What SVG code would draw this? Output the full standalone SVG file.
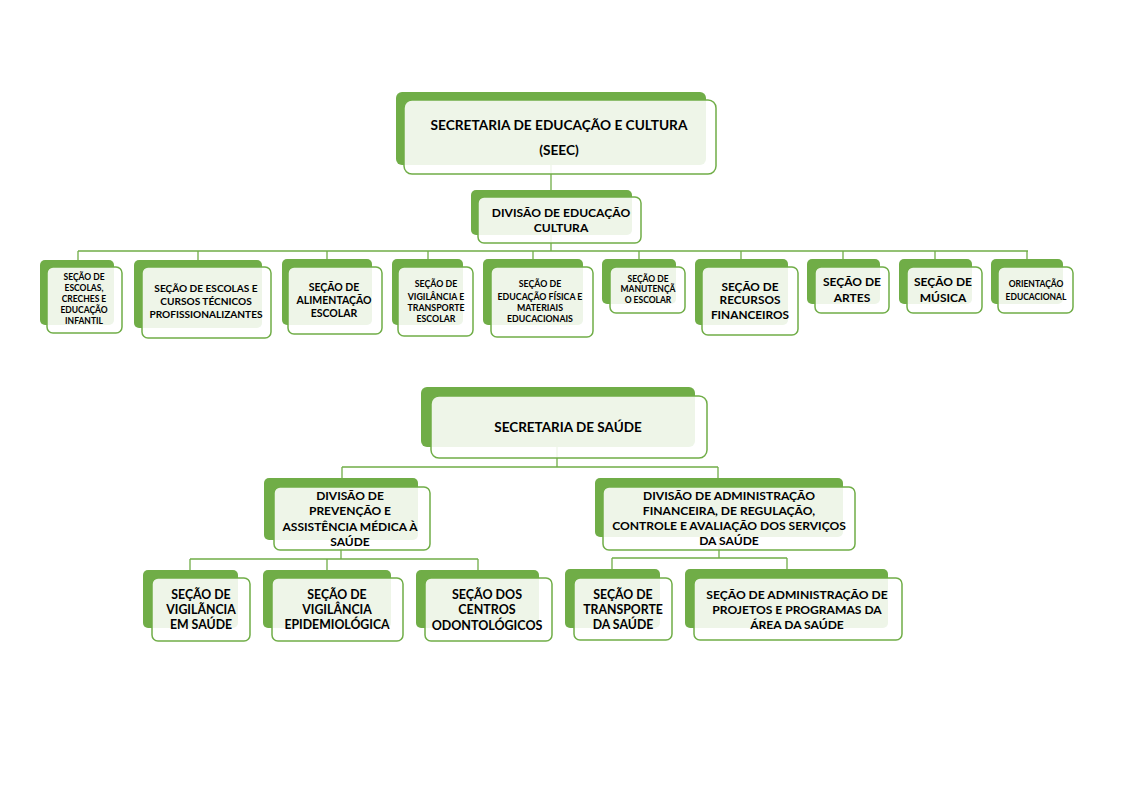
<svg xmlns="http://www.w3.org/2000/svg" width="1121" height="793" viewBox="0 0 1121 793">
<style>
.bk{fill:#70ad47}
.fr{fill:#ffffff;fill-opacity:0.88;stroke:#70ad47;stroke-width:1.5}
.cn{fill:none;stroke:#70ad47;stroke-width:1.3}
text{font-family:Lato,"Liberation Sans",sans-serif;font-weight:bold;fill:#000;text-anchor:middle}
</style>
<rect width="1121" height="793" fill="#ffffff"/>
<g id="connectors" class="cn">
<path d="M551 165V197M551 235V251M78 251H1028M78 251V260M198 251V260M327 251V260M428 251V260M533 251V260M639 251V260M741 251V260M843 251V260M935 251V260M1027 251V260"/>
<path d="M557 447V467M342 467H718M342 467V478M718 467V478"/>
<path d="M341 540V559M190 559H478M190 559V570M327 559V570M478 559V570"/>
<path d="M719 537V558M612 558H787M612 558V569M787 558V569"/>
</g>
<g id="seec">
<rect class="bk" x="396" y="92" width="310" height="73" rx="6"/>
<rect class="fr" x="404" y="100" width="312" height="74" rx="8"/>
<text x="559" y="130" font-size="13.7">SECRETARIA DE EDUCAÇÃO E CULTURA</text>
<text x="559" y="155" font-size="13.7">(SEEC)</text>
</g>
<g id="div-educacao">
<rect class="bk" x="471" y="190" width="161" height="45" rx="5"/>
<rect class="fr" x="478" y="197" width="163" height="46" rx="6"/>
<text x="561" y="217" font-size="12.1">DIVISÃO DE EDUCAÇÃO</text>
<text x="561" y="232" font-size="12.1">CULTURA</text>
</g>
<g id="sec-escolas-creches">
<rect class="bk" x="40" y="260" width="74" height="65" rx="5"/>
<rect class="fr" x="47" y="267" width="75" height="66" rx="6"/>
<g font-size="8.5"><text x="84" y="280">SEÇÃO DE</text><text x="84" y="291">ESCOLAS,</text><text x="84" y="302">CRECHES E</text><text x="84" y="313">EDUCAÇÃO</text><text x="84" y="324">INFANTIL</text></g>
</g>
<g id="sec-cursos-tecnicos">
<rect class="bk" x="134" y="260" width="128" height="68" rx="5"/>
<rect class="fr" x="142" y="267" width="129" height="71" rx="6"/>
<g font-size="10.1"><text x="206" y="292">SEÇÃO DE ESCOLAS E</text><text x="206" y="305">CURSOS TÉCNICOS</text><text x="206" y="318">PROFISSIONALIZANTES</text></g>
</g>
<g id="sec-alimentacao">
<rect class="bk" x="282" y="259" width="90" height="66" rx="5"/>
<rect class="fr" x="288" y="267" width="94" height="67" rx="6"/>
<g font-size="10.5"><text x="334" y="291">SEÇÃO DE</text><text x="334" y="304">ALIMENTAÇÃO</text><text x="334" y="317">ESCOLAR</text></g>
</g>
<g id="sec-vigilancia-transporte">
<rect class="bk" x="392" y="259" width="71" height="66" rx="5"/>
<rect class="fr" x="398" y="267" width="75" height="69" rx="6"/>
<g font-size="8.8"><text x="436" y="287">SEÇÃO DE</text><text x="436" y="300">VIGILÂNCIA E</text><text x="436" y="311">TRANSPORTE</text><text x="436" y="322">ESCOLAR</text></g>
</g>
<g id="sec-educacao-fisica">
<rect class="bk" x="483" y="259" width="100" height="66" rx="5"/>
<rect class="fr" x="491" y="267" width="102" height="70" rx="6"/>
<g font-size="8.8"><text x="540" y="287">SEÇÃO DE</text><text x="540" y="300">EDUCAÇÃO FÍSICA E</text><text x="540" y="311">MATERIAIS</text><text x="540" y="322">EDUCACIONAIS</text></g>
</g>
<g id="sec-manutencao">
<rect class="bk" x="602" y="259" width="74" height="45" rx="5"/>
<rect class="fr" x="610" y="267" width="75" height="46" rx="6"/>
<g font-size="8.5"><text x="648" y="282">SEÇÃO DE</text><text x="648" y="292">MANUTENÇÃ</text><text x="648" y="303">O ESCOLAR</text></g>
</g>
<g id="sec-recursos">
<rect class="bk" x="695" y="259" width="93" height="66" rx="5"/>
<rect class="fr" x="702" y="267" width="96" height="68" rx="6"/>
<g font-size="11.8"><text x="750" y="291">SEÇÃO DE</text><text x="750" y="304">RECURSOS</text><text x="750" y="319">FINANCEIROS</text></g>
</g>
<g id="sec-artes">
<rect class="bk" x="807" y="259" width="73" height="45" rx="5"/>
<rect class="fr" x="815" y="267" width="74" height="46" rx="6"/>
<g font-size="12"><text x="852" y="286">SEÇÃO DE</text><text x="852" y="302">ARTES</text></g>
</g>
<g id="sec-musica">
<rect class="bk" x="899" y="259" width="73" height="45" rx="5"/>
<rect class="fr" x="907" y="267" width="75" height="46" rx="6"/>
<g font-size="12"><text x="943" y="286">SEÇÃO DE</text><text x="943" y="302">MÚSICA</text></g>
</g>
<g id="orientacao">
<rect class="bk" x="991" y="259" width="72" height="45" rx="5"/>
<rect class="fr" x="998" y="267" width="75" height="46" rx="6"/>
<g font-size="8.5"><text x="1036" y="287">ORIENTAÇÃO</text><text x="1036" y="300">EDUCACIONAL</text></g>
</g>
<g id="saude">
<rect class="bk" x="421" y="387" width="274" height="60" rx="6"/>
<rect class="fr" x="431" y="396" width="276" height="62" rx="8"/>
<text x="568" y="432" font-size="13.5">SECRETARIA DE SAÚDE</text>
</g>
<g id="div-prevencao">
<rect class="bk" x="264" y="478" width="154" height="62" rx="5"/>
<rect class="fr" x="274" y="487" width="156" height="63" rx="6"/>
<g font-size="12"><text x="350" y="500">DIVISÃO DE</text><text x="350" y="515">PREVENÇÃO E</text><text x="350" y="531">ASSISTÊNCIA MÉDICA À</text><text x="350" y="546">SAÚDE</text></g>
</g>
<g id="div-administracao">
<rect class="bk" x="595" y="478" width="248" height="59" rx="5"/>
<rect class="fr" x="603" y="487" width="252" height="63" rx="6"/>
<g font-size="12.1"><text x="729" y="500">DIVISÃO DE ADMINISTRAÇÃO</text><text x="729" y="515">FINANCEIRA, DE REGULAÇÃO,</text><text x="729" y="530">CONTROLE E AVALIAÇÃO DOS SERVIÇOS</text><text x="729" y="545">DA SAÚDE</text></g>
</g>
<g id="sec-vigilancia-saude">
<rect class="bk" x="143" y="570" width="95" height="58" rx="5"/>
<rect class="fr" x="152" y="578" width="98" height="63" rx="6"/>
<g font-size="12.3"><text x="201" y="599">SEÇÃO DE</text><text x="201" y="614">VIGILÃNCIA</text><text x="201" y="629">EM SAÚDE</text></g>
</g>
<g id="sec-vigilancia-epidemiologica">
<rect class="bk" x="263" y="570" width="128" height="58" rx="5"/>
<rect class="fr" x="272" y="578" width="131" height="63" rx="6"/>
<g font-size="12.3"><text x="337" y="599">SEÇÃO DE</text><text x="337" y="614">VIGILÂNCIA</text><text x="337" y="629">EPIDEMIOLÓGICA</text></g>
</g>
<g id="sec-centros-odontologicos">
<rect class="bk" x="416" y="570" width="123" height="58" rx="5"/>
<rect class="fr" x="425" y="578" width="127" height="63" rx="6"/>
<g font-size="12.5"><text x="487" y="599">SEÇÃO DOS</text><text x="487" y="614">CENTROS</text><text x="487" y="630">ODONTOLÓGICOS</text></g>
</g>
<g id="sec-transporte-saude">
<rect class="bk" x="565" y="569" width="95" height="59" rx="5"/>
<rect class="fr" x="574" y="578" width="98" height="62" rx="6"/>
<g font-size="12.3"><text x="623" y="599">SEÇÃO DE</text><text x="623" y="614">TRANSPORTE</text><text x="623" y="629">DA SAÚDE</text></g>
</g>
<g id="sec-projetos">
<rect class="bk" x="685" y="569" width="203" height="59" rx="5"/>
<rect class="fr" x="694" y="578" width="208" height="62" rx="6"/>
<g font-size="12.1"><text x="797" y="599">SEÇÃO DE ADMINISTRAÇÃO DE</text><text x="797" y="614">PROJETOS E PROGRAMAS DA</text><text x="797" y="629">ÁREA DA SAÚDE</text></g>
</g>
</svg>
